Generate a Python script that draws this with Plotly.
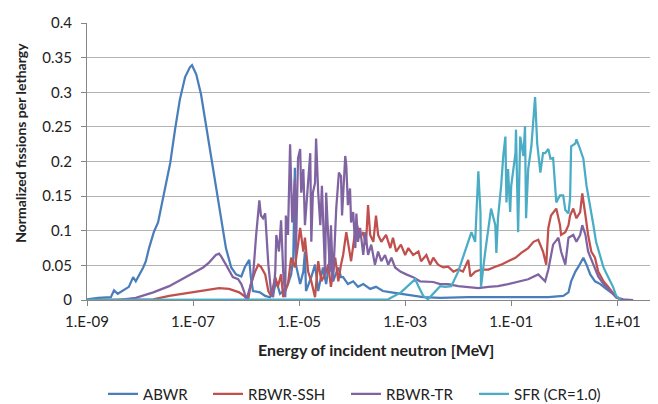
import plotly.graph_objects as go

# log10 of incident neutron energy [MeV] and normalized fissions per lethargy
abwr_logE = [-9.00, -8.79, -8.55, -8.49, -8.42, -8.21, -8.13, -8.08, -7.94, -7.89, -7.83, -7.74, -7.66,
             -7.53, -7.43, -7.34, -7.25, -7.15, -7.06, -7.02, -6.98, -6.94, -6.85, -6.75, -6.66, -6.57,
             -6.47, -6.38, -6.28, -6.19, -6.09, -6.02, -5.94, -5.91, -5.87, -5.74, -5.64, -5.55, -5.49,
             -5.43, -5.36, -5.30, -5.21, -5.15, -5.11, -5.08, -5.06, -4.98, -4.92, -4.89, -4.87, -4.77,
             -4.70, -4.64, -4.55, -4.49, -4.42, -4.36, -4.26, -4.21, -4.17, -4.08, -3.98, -3.89, -3.79,
             -3.66, -3.55, -3.42, -3.26, -3.09, -2.91, -2.66, -2.34, -1.81, -1.06, -0.30, -0.02, 0.08,
             0.13, 0.21, 0.26, 0.32, 0.36, 0.42, 0.49, 0.58, 0.68, 0.79, 0.92, 0.98, 1.06]
abwr_val = [0.001, 0.003, 0.004, 0.014, 0.009, 0.019, 0.033, 0.027, 0.047, 0.056, 0.075, 0.098, 0.112,
            0.161, 0.198, 0.246, 0.289, 0.322, 0.336, 0.339, 0.333, 0.326, 0.297, 0.251, 0.204, 0.165,
            0.118, 0.075, 0.047, 0.037, 0.034, 0.048, 0.058, 0.033, 0.013, 0.011, 0.006, 0.004, 0.009,
            0.027, 0.009, 0.013, 0.023, 0.037, 0.061, 0.191, 0.051, 0.023, 0.041, 0.070, 0.013, 0.033,
            0.051, 0.013, 0.047, 0.023, 0.061, 0.027, 0.047, 0.033, 0.033, 0.023, 0.027, 0.019, 0.023,
            0.016, 0.019, 0.013, 0.011, 0.009, 0.006, 0.004, 0.003, 0.004, 0.004, 0.004, 0.006, 0.011,
            0.027, 0.041, 0.047, 0.056, 0.061, 0.051, 0.037, 0.027, 0.023, 0.016, 0.009, 0.004, 0.001]

ssh_logE = [-9.00, -7.75, -7.45, -7.13, -6.81, -6.51, -6.32, -6.13, -6.04, -5.96, -5.91, -5.83, -5.77,
            -5.72, -5.64, -5.58, -5.53, -5.45, -5.40, -5.34, -5.30, -5.21, -5.15, -5.08, -5.02, -4.98,
            -4.92, -4.89, -4.83, -4.77, -4.70, -4.64, -4.58, -4.51, -4.45, -4.40, -4.32, -4.26, -4.21,
            -4.17, -4.11, -4.02, -3.92, -3.85, -3.79, -3.74, -3.70, -3.66, -3.60, -3.55, -3.51, -3.45,
            -3.36, -3.28, -3.23, -3.17, -3.08, -3.00, -2.94, -2.85, -2.75, -2.70, -2.60, -2.53, -2.47,
            -2.38, -2.28, -2.19, -2.09, -2.00, -1.91, -1.81, -1.77, -1.68, -1.57, -1.43, -1.30, -1.19,
            -1.06, -0.92, -0.81, -0.68, -0.58, -0.49, -0.40, -0.34, -0.30, -0.25, -0.15, -0.08, -0.06,
            0.02, 0.08, 0.11, 0.17, 0.23, 0.30, 0.34, 0.40, 0.45, 0.51, 0.58, 0.64, 0.74, 0.83, 0.92,
            0.98, 1.06]
ssh_val = [0.000, 0.001, 0.006, 0.010, 0.013, 0.017, 0.016, 0.011, 0.006, 0.001, 0.023, 0.041, 0.051,
           0.048, 0.037, 0.013, 0.006, 0.033, 0.019, 0.037, 0.004, 0.023, 0.061, 0.047, 0.080, 0.104,
           0.070, 0.090, 0.041, 0.027, 0.004, 0.056, 0.027, 0.037, 0.051, 0.019, 0.061, 0.027, 0.051,
           0.065, 0.098, 0.056, 0.112, 0.090, 0.098, 0.080, 0.137, 0.094, 0.084, 0.122, 0.094, 0.084,
           0.094, 0.075, 0.090, 0.070, 0.080, 0.065, 0.075, 0.065, 0.070, 0.056, 0.065, 0.051, 0.061,
           0.051, 0.047, 0.048, 0.041, 0.044, 0.041, 0.058, 0.034, 0.041, 0.044, 0.044, 0.048, 0.051,
           0.056, 0.061, 0.068, 0.075, 0.084, 0.087, 0.070, 0.051, 0.104, 0.122, 0.132, 0.108, 0.094,
           0.098, 0.108, 0.122, 0.132, 0.118, 0.127, 0.154, 0.122, 0.094, 0.070, 0.061, 0.041, 0.027,
           0.019, 0.009, 0.004, 0.001]

tr_logE = [-9.00, -8.42, -8.08, -7.75, -7.45, -7.13, -6.81, -6.70, -6.57, -6.51, -6.47, -6.38, -6.25,
           -6.15, -6.09, -6.04, -6.00, -5.96, -5.87, -5.81, -5.75, -5.72, -5.68, -5.64, -5.62, -5.58,
           -5.53, -5.49, -5.45, -5.43, -5.38, -5.34, -5.30, -5.26, -5.25, -5.21, -5.17, -5.13, -5.08,
           -5.06, -5.02, -4.98, -4.96, -4.92, -4.89, -4.87, -4.79, -4.77, -4.74, -4.70, -4.68, -4.64,
           -4.60, -4.57, -4.51, -4.49, -4.42, -4.40, -4.36, -4.30, -4.25, -4.21, -4.19, -4.13, -4.11,
           -4.08, -4.04, -4.02, -3.98, -3.94, -3.92, -3.89, -3.85, -3.79, -3.75, -3.70, -3.64, -3.57,
           -3.51, -3.45, -3.38, -3.32, -3.26, -3.19, -3.09, -2.98, -2.85, -2.72, -2.60, -2.47, -2.34,
           -2.19, -2.00, -1.81, -1.62, -1.43, -1.25, -1.06, -0.87, -0.68, -0.49, -0.40, -0.36, -0.30,
           -0.21, -0.11, -0.06, 0.02, 0.08, 0.17, 0.23, 0.30, 0.34, 0.40, 0.45, 0.55, 0.64, 0.74, 0.87,
           0.98, 1.11, 1.30]
tr_val = [0.000, 0.000, 0.003, 0.011, 0.020, 0.033, 0.047, 0.054, 0.065, 0.067, 0.063, 0.051, 0.033,
          0.030, 0.023, 0.013, 0.001, 0.009, 0.033, 0.094, 0.144, 0.122, 0.118, 0.125, 0.094, 0.051,
          0.013, 0.004, 0.041, 0.094, 0.070, 0.115, 0.041, 0.004, 0.122, 0.094, 0.225, 0.112, 0.175,
          0.070, 0.205, 0.218, 0.155, 0.189, 0.108, 0.132, 0.212, 0.084, 0.155, 0.169, 0.233, 0.155,
          0.108, 0.165, 0.037, 0.155, 0.041, 0.108, 0.027, 0.132, 0.184, 0.179, 0.122, 0.208, 0.194,
          0.137, 0.161, 0.112, 0.127, 0.075, 0.125, 0.084, 0.104, 0.065, 0.098, 0.065, 0.080, 0.051,
          0.070, 0.056, 0.065, 0.051, 0.061, 0.047, 0.041, 0.037, 0.033, 0.027, 0.027, 0.026, 0.023,
          0.023, 0.020, 0.019, 0.017, 0.019, 0.020, 0.023, 0.026, 0.030, 0.037, 0.030, 0.027, 0.044,
          0.080, 0.090, 0.070, 0.051, 0.090, 0.094, 0.084, 0.094, 0.108, 0.094, 0.070, 0.051, 0.034,
          0.023, 0.013, 0.004, 0.001, 0.000]

sfr_logE = [-9.00, -3.70, -3.32, -3.08, -2.91, -2.81, -2.75, -2.66, -2.57, -2.43, -2.34, -2.25, -2.13,
            -2.00, -1.91, -1.81, -1.75, -1.68, -1.66, -1.62, -1.58, -1.57, -1.49, -1.43, -1.38, -1.30,
            -1.28, -1.25, -1.19, -1.15, -1.11, -1.09, -1.06, -1.02, -1.00, -0.92, -0.91, -0.87, -0.83,
            -0.77, -0.74, -0.72, -0.68, -0.62, -0.58, -0.55, -0.51, -0.45, -0.40, -0.36, -0.30, -0.26,
            -0.21, -0.15, -0.08, -0.02, 0.02, 0.08, 0.11, 0.13, 0.21, 0.23, 0.28, 0.36, 0.42, 0.49,
            0.55, 0.60, 0.68, 0.74, 0.83, 0.92, 0.98, 1.06]
sfr_val = [0.000, 0.000, 0.001, 0.011, 0.023, 0.030, 0.020, 0.006, 0.001, 0.013, 0.020, 0.019, 0.020,
           0.041, 0.061, 0.084, 0.098, 0.084, 0.127, 0.186, 0.127, 0.019, 0.070, 0.104, 0.132, 0.108,
           0.068, 0.118, 0.165, 0.208, 0.236, 0.141, 0.189, 0.127, 0.165, 0.212, 0.246, 0.098, 0.236,
           0.208, 0.251, 0.118, 0.189, 0.222, 0.269, 0.293, 0.226, 0.184, 0.212, 0.212, 0.218, 0.204,
           0.205, 0.141, 0.151, 0.151, 0.130, 0.125, 0.147, 0.222, 0.226, 0.232, 0.222, 0.204, 0.165,
           0.137, 0.108, 0.084, 0.061, 0.047, 0.033, 0.019, 0.006, 0.001]

series_names = ["ABWR", "RBWR-SSH", "RBWR-TR", "SFR (CR=1.0)"]
series_colors = ["#4A7EBB", "#C0504D", "#8064A2", "#4BACC6"]

x_tick_exps = [-9, -7, -5, -3, -1, 1]
x_tick_labels = ["1.E-09", "1.E-07", "1.E-05", "1.E-03", "1.E-01", "1.E+01"]
y_ticks = [0, 0.05, 0.1, 0.15, 0.2, 0.25, 0.3, 0.35, 0.4]
y_tick_labels = ["0", "0.05", "0.1", "0.15", "0.2", "0.25", "0.3", "0.35", "0.4"]

font_family = "Lato, Liberation Sans, sans-serif"
text_color = "#222222"

# plot area in pixels (for positioning the separate legend entries)
plot_left, plot_width = 79, 578
legend_item_px = [95, 200, 338, 466]
legend_ids = ["legend", "legend2", "legend3", "legend4"]

fig = go.Figure()
data = [(abwr_logE, abwr_val), (ssh_logE, ssh_val), (tr_logE, tr_val), (sfr_logE, sfr_val)]
for (lx, v), name, color, lid in zip(data, series_names, series_colors, legend_ids):
    fig.add_trace(go.Scatter(x=[10 ** e for e in lx], y=v, mode="lines", name=name,
                             legend=lid, line=dict(color=color, width=2.25)))

legend_layout = {}
for lid, px in zip(legend_ids, legend_item_px):
    legend_layout[lid] = dict(orientation="h", x=(px - plot_left) / plot_width, xanchor="left",
                              y=-0.34, yanchor="middle", bgcolor="rgba(0,0,0,0)",
                              borderwidth=0, font=dict(size=15, color=text_color))

fig.update_layout(
    width=658, height=404,
    margin=dict(l=79, r=1, t=15, b=108),
    paper_bgcolor="white", plot_bgcolor="white",
    font=dict(family=font_family, size=13, color=text_color),
    showlegend=True,
    xaxis=dict(type="log", range=[-9, 1.9],
               tickvals=[10 ** e for e in x_tick_exps], ticktext=x_tick_labels,
               showgrid=False, zeroline=False, showline=True, linecolor="#868686", linewidth=1,
               ticks="outside", ticklen=5, tickcolor="#868686", tickfont=dict(size=15),
               ticklabelstandoff=3),
    yaxis=dict(range=[0, 0.4], tickvals=y_ticks, ticktext=y_tick_labels,
               showgrid=True, gridcolor="#B3B3B3", gridwidth=1, zeroline=False,
               showline=True, linecolor="#868686", linewidth=1,
               ticks="outside", ticklen=5, tickcolor="#868686", tickfont=dict(size=15),
               ticklabelstandoff=6),
    annotations=[
        dict(text="<b>Energy of incident neutron [MeV]</b>", xref="paper", yref="paper",
             x=0.5, y=-0.18, xanchor="center", yanchor="middle", showarrow=False,
             font=dict(size=16, color=text_color)),
        dict(text="<b>Normalized fissions per lethargy</b>", xref="paper", yref="paper",
             x=-0.115, y=0.566, xanchor="center", yanchor="middle", showarrow=False,
             textangle=-90, font=dict(size=14, color=text_color)),
    ],
    **legend_layout,
)

fig.write_html("out.html")
